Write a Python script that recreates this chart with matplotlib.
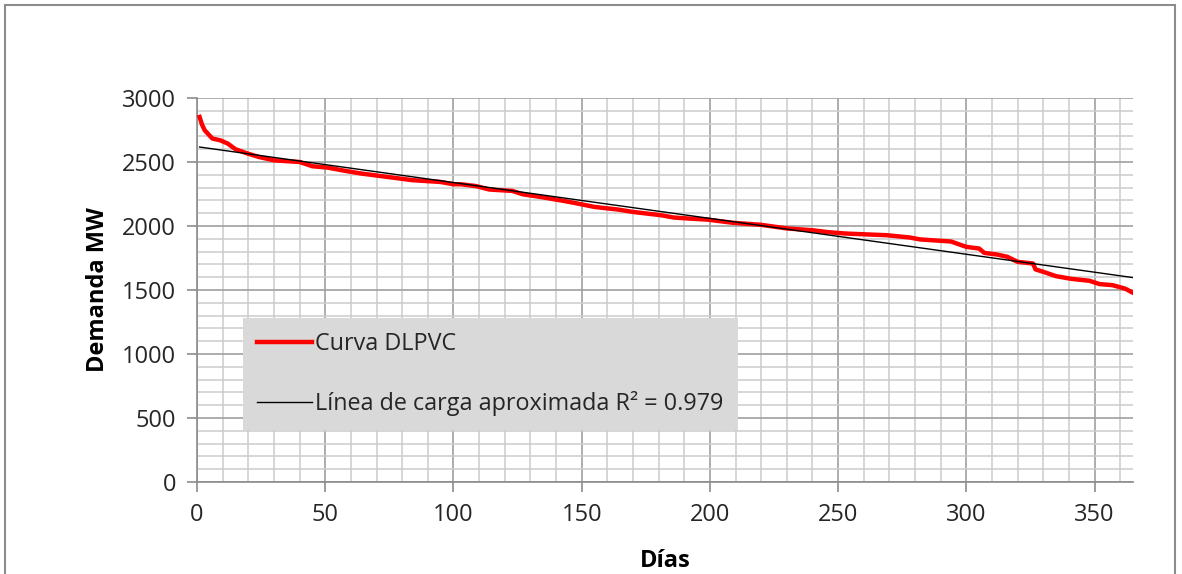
import matplotlib.pyplot as plt
from matplotlib.patches import Rectangle
from matplotlib.ticker import MultipleLocator

# curva de duración de carga
days = [1, 2, 3, 6, 9, 12, 15, 19, 24, 30, 40, 45, 51, 58, 64, 74, 84, 95,
        100, 103, 109, 114, 123, 127, 134, 143, 147, 155, 164, 170, 181, 186,
        192, 199, 209, 220, 230, 240, 246, 253, 269, 278, 282, 294, 300, 305,
        307, 312, 316, 320, 326, 327, 330, 335, 341, 348, 352, 357, 362, 365]
demand = [2852, 2790, 2748, 2683, 2670, 2644, 2600, 2571, 2540, 2513, 2500,
          2467, 2456, 2430, 2410, 2384, 2358, 2344, 2326, 2326, 2311, 2285,
          2274, 2248, 2227, 2196, 2181, 2149, 2129, 2110, 2084, 2066, 2058,
          2050, 2025, 2009, 1981, 1967, 1952, 1941, 1928, 1910, 1895, 1879,
          1837, 1824, 1790, 1777, 1759, 1720, 1707, 1661, 1642, 1608, 1587,
          1572, 1546, 1538, 1510, 1478]

trend_days = [1, 365]
trend_demand = [2617, 1597]

x_ticks = [0, 50, 100, 150, 200, 250, 300, 350]
y_ticks = [0, 500, 1000, 1500, 2000, 2500, 3000]

plt.rcParams['font.family'] = ['Open Sans', 'DejaVu Sans']

fig = plt.figure(figsize=(11.82, 5.74), dpi=100)
ax = fig.add_axes([197 / 1182, 1 - 482 / 574, (1133 - 197) / 1182, (482 - 98) / 574])

ax.plot(days, demand, color='#ff0000', lw=3.2, label='Curva DLPVC',
        solid_joinstyle='round', zorder=3)
ax.plot(trend_days, trend_demand, color='black', lw=1.0,
        label='Línea de carga aproximada R² = 0.979', zorder=4)

ax.set_xlim(0, 365)
ax.set_ylim(0, 3000)
ax.set_xticks(x_ticks)
ax.set_yticks(y_ticks)
ax.xaxis.set_minor_locator(MultipleLocator(10))
ax.yaxis.set_minor_locator(MultipleLocator(100))

ax.grid(which='minor', color='#cccccc', lw=1.1)
ax.grid(which='major', color='#a0a0a0', lw=1.2)
ax.set_axisbelow(True)

for side in ['top', 'right']:
    ax.spines[side].set_visible(False)
for side in ['left', 'bottom']:
    ax.spines[side].set_color('#8c8c8c')
    ax.spines[side].set_linewidth(1.2)

ax.tick_params(which='major', direction='out', length=7, width=1.2,
               color='#8c8c8c', labelsize=17, labelcolor='#262626', pad=8)
ax.tick_params(which='minor', length=0)

ax.set_xlabel('Días', fontsize=17, fontweight='bold', labelpad=16)
ax.set_ylabel('Demanda MW', fontsize=17, fontweight='bold', labelpad=9)

leg = ax.legend(loc='lower left', bbox_to_anchor=(0.049, 0.136),
                fontsize=16.8, frameon=True, fancybox=False,
                facecolor='#d9d9d9', edgecolor='none', framealpha=1,
                handlelength=2.35, handletextpad=0.15, labelspacing=1.5,
                borderpad=0.6, borderaxespad=0)
for t in leg.get_texts():
    t.set_color('#262626')

fig.patches.append(Rectangle((5 / 1182, -0.05), (1175 - 5) / 1182,
                             1.05 - 5 / 574, transform=fig.transFigure,
                             fill=False, edgecolor='#8c8c8c', lw=1.5))

fig.savefig('out.png', dpi=100)
